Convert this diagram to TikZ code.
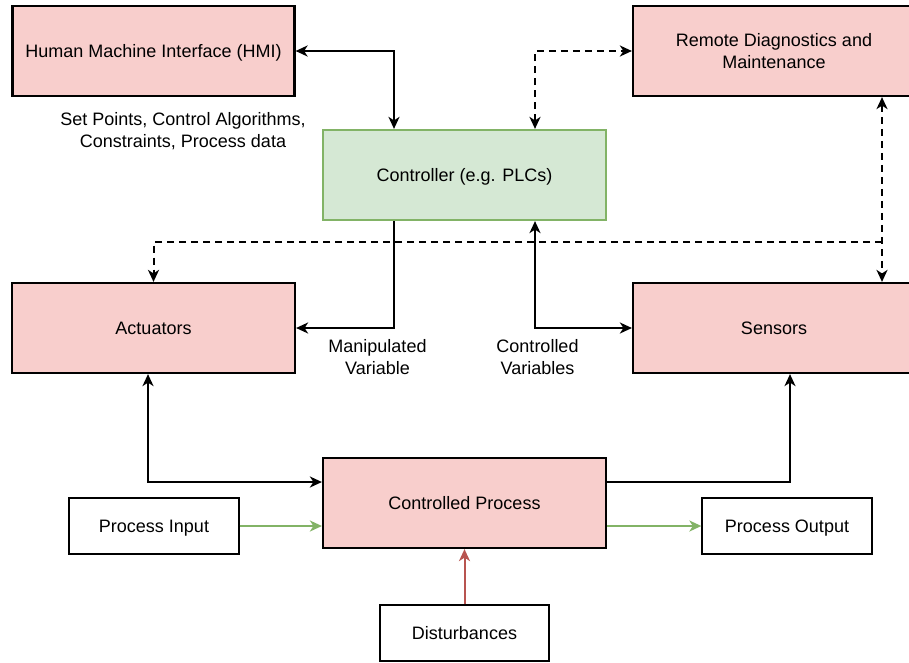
\documentclass[tikz,border=0pt]{standalone}
\usepackage{fontspec}
\setmainfont{Liberation Sans}
\usetikzlibrary{arrows.meta}
\definecolor{pinkfill}{HTML}{F8CECC}
\definecolor{greenfill}{HTML}{D5E8D4}
\definecolor{greenline}{HTML}{82B366}
\definecolor{redline}{HTML}{B85450}
\begin{document}
\begin{tikzpicture}[x=1pt,y=-1pt,
  font=\fontsize{18}{21.5}\selectfont,
  tip/.tip={Stealth[length=12pt,width=11pt,inset=3.5pt]},
  onel/.style={text height=15pt, text depth=2pt},
  pbox/.style={draw=black, line width=2.2pt, fill=pinkfill, align=center, inner sep=0pt, minimum height=90pt},
  box/.style={pbox, onel},
  ctrlbox/.style={draw=greenline, line width=2.2pt, fill=greenfill, align=center, inner sep=0pt, minimum height=90pt, minimum width=283pt, onel},
  plain/.style={draw=black, line width=1.3pt, fill=white, align=center, inner sep=0pt, minimum height=56pt, minimum width=170pt, onel},
  link/.style={draw=black, line width=2pt, tip-tip},
  fwd/.style={draw=black, line width=2pt, -tip},
  dlink/.style={link, dash pattern=on 7pt off 5pt},
  dfwd/.style={fwd, dash pattern=on 7pt off 5pt},
  gflow/.style={draw=greenline, line width=2pt, -{Stealth[length=12pt,width=11pt,inset=3.5pt,fill=greenline]}},
  rflow/.style={draw=redline, line width=2pt, -{Stealth[length=12pt,width=11pt,inset=3.5pt,fill=redline]}},
  lbl/.style={align=center, inner sep=0pt}]
\useasboundingbox (0,0) rectangle (909,662);

\node[box, minimum width=282pt] (hmi) at (153.5,51) {Human Machine Interface (HMI)};
\node[pbox, minimum width=282pt] (remote) at (774,51) {Remote Diagnostics and\\Maintenance};
\node[ctrlbox] (ctrl) at (464.5,175) {Controller (e.g. PLCs)};
\node[box, minimum width=283pt] (act) at (153.5,328) {Actuators};
\node[box, minimum width=282pt] (sens) at (774,328) {Sensors};
\node[box, minimum width=283pt] (cp) at (464.5,503) {Controlled Process};
\node[plain] (pin) at (154,526) {Process Input};
\node[plain] (pout) at (787,526) {Process Output};
\node[plain, minimum width=169pt] (dist) at (464.5,633) {Disturbances};

\node[lbl] (l1) at (183,131) {Set Points, Control Algorithms,\\Constraints, Process data};
\node[lbl] (l2) at (377.5,357) {Manipulated\\Variable};
\node[lbl] (l3) at (537.5,357) {Controlled\\Variables};

\coordinate (dj) at (882,242);

\draw[link] (hmi.east) -| ([xshift=-70.5]ctrl.north);
\draw[dlink] ([xshift=70.5]ctrl.north) |- (remote.west);
\draw[fwd] ([xshift=-70.5]ctrl.south) |- (act.east);
\draw[link] ([xshift=70.5]ctrl.south) |- (sens.west);
\draw[dlink] ([xshift=108]remote.south) -- ([xshift=108]sens.north);
\draw[dfwd] (dj) -| (act.north);
\draw[link] ([xshift=-5.5]act.south) |- ([yshift=21]cp.west);
\draw[fwd] ([yshift=21]cp.east) -| ([xshift=16]sens.south);
\draw[gflow] (pin.east) -- (cp.west |- pin.east);
\draw[gflow] (cp.east |- pout.west) -- (pout.west);
\draw[rflow] (dist.north) -- (cp.south);
\end{tikzpicture}
\end{document}
